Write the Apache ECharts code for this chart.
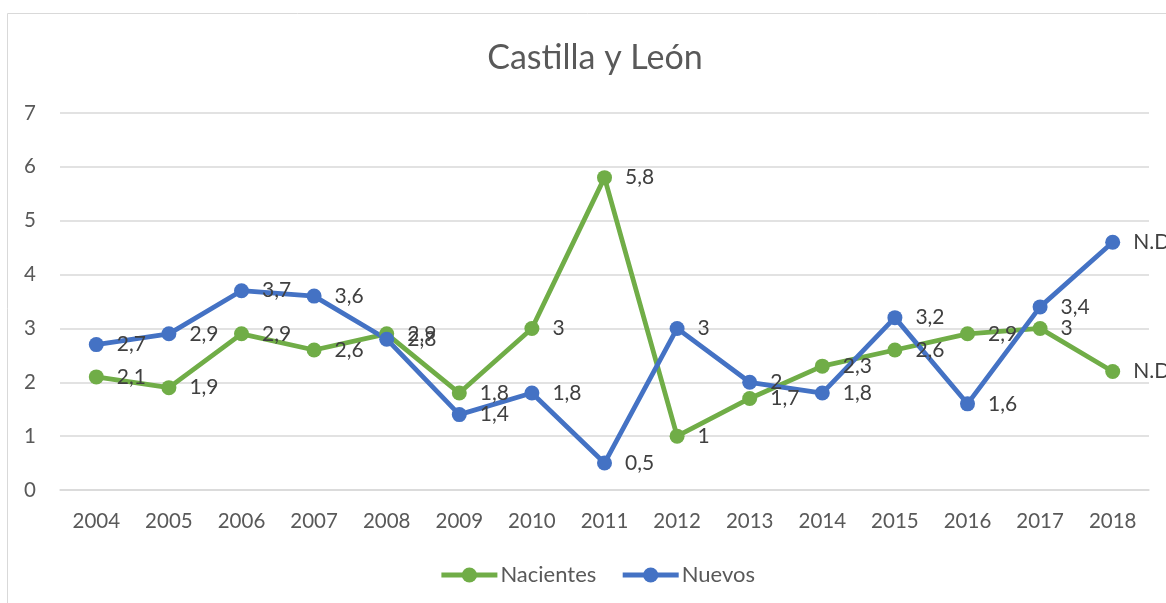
<!DOCTYPE html>
<html><head><meta charset="utf-8">
<script src="https://cdn.jsdelivr.net/npm/echarts@6/dist/echarts.min.js"></script>
<style>html,body{margin:0;padding:0;background:#fff;}#c{width:1166px;height:603px;}</style>
</head><body><div id="c"></div>
<script>
const years = ['2004','2005','2006','2007','2008','2009','2010','2011','2012','2013','2014','2015','2016','2017','2018'];
const nacientes = [2.1,1.9,2.9,2.6,2.9,1.8,3,5.8,1,1.7,2.3,2.6,2.9,3,2.2];
const nuevos = [2.7,2.9,3.7,3.6,2.8,1.4,1.8,0.5,3,2,1.8,3.2,1.6,3.4,4.6];
const nacLabels = ['2,1','1,9','2,9','2,6','2,9','1,8','3','5,8','1','1,7','2,3','2,6','2,9','3','N.D.'];
const nueLabels = ['2,7','2,9','3,7','3,6','2,8','1,4','1,8','0,5','3','2','1,8','3,2','1,6','3,4','N.D.'];
const FONT = 'Lato';
const chart = echarts.init(document.getElementById('c'));
function mk(name, data, labels, color){
  return {
    name, type:'line', data, color,
    symbol:'circle', symbolSize:15,
    lineStyle:{width:4.8, color},
    itemStyle:{color},
    label:{show:true, position:'right', distance:13, color:'#404040', fontFamily:FONT, fontSize:21,
      formatter:p=>labels[p.dataIndex]},
    labelLayout:{hideOverlap:false},
    animation:false
  };
}
chart.setOption({
  animation:false,
  title:{text:'Castilla y León', left:590, top:36, textAlign:'center',
    textStyle:{fontFamily:FONT, fontWeight:'normal', fontSize:34, color:'#595959'}},
  graphic:[{type:'rect', shape:{x:7.5,y:13.5,width:1300,height:700}, style:{fill:'none', stroke:'#d9d9d9', lineWidth:1}, silent:true}],
  legend:{bottom:12, left:434, itemWidth:56, itemHeight:19, itemGap:24,
    lineStyle:{width:4.8},
    textStyle:{fontFamily:FONT, fontSize:22, color:'#595959', padding:[0,0,0,-2]},
    data:['Nacientes','Nuevos']},
  grid:{left:60, right:17, top:113, bottom:113},
  xAxis:{type:'category', data:years, boundaryGap:true,
    axisLine:{show:true, lineStyle:{color:'#d9d9d9', width:1.5}}, axisTick:{show:false},
    axisLabel:{color:'#595959', fontFamily:FONT, fontSize:20.5, margin:21}},
  yAxis:{type:'value', min:0, max:7, interval:1,
    axisLine:{show:false}, axisTick:{show:false},
    splitLine:{lineStyle:{color:'#d9d9d9', width:1.5}},
    axisLabel:{color:'#595959', fontFamily:FONT, fontSize:20.5, margin:24}},
  series:[mk('Nacientes', nacientes, nacLabels, '#70AD47'), mk('Nuevos', nuevos, nueLabels, '#4472C4')]
});
</script></body></html>
